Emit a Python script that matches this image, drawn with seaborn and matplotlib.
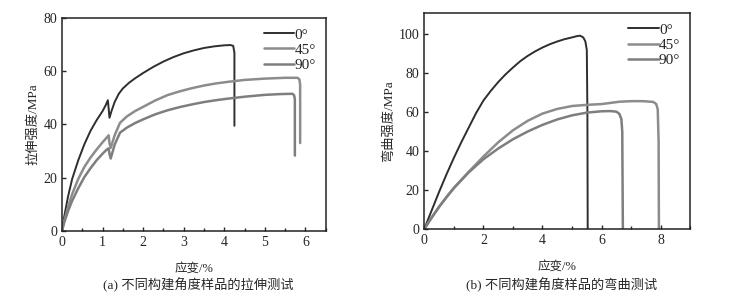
import numpy as np
import pandas as pd
import matplotlib
matplotlib.use("Agg")
import matplotlib.pyplot as plt
import seaborn as sns
from matplotlib.ticker import MultipleLocator

# tensile test (a)
t0_x = [0, 0.05, 0.15, 0.25, 0.4, 0.55, 0.7, 0.85, 1.0, 1.08, 1.13, 1.15, 1.17, 1.22, 1.3, 1.4, 1.5,
        1.65, 1.8, 2.0, 2.25, 2.5, 2.75, 3.0, 3.25, 3.5, 3.75, 4.0, 4.15, 4.22, 4.25, 4.25]
t0_y = [0, 5, 13, 19.5, 26.5, 32.5, 37.5, 41.5, 45, 47.3, 49.1, 46, 42.5, 45, 48.5, 51.5, 53.5,
        55.6, 57.3, 59.3, 61.6, 63.6, 65.3, 66.7, 67.8, 68.7, 69.3, 69.7, 69.8, 69.5, 67, 39.5]
t45_x = [0, 0.05, 0.15, 0.25, 0.4, 0.55, 0.7, 0.85, 1.0, 1.1, 1.15, 1.17, 1.2, 1.3, 1.43, 1.6, 1.8,
         2.0, 2.3, 2.6, 2.9, 3.2, 3.5, 3.8, 4.1, 4.5, 5.0, 5.5, 5.8, 5.85, 5.87, 5.87]
t45_y = [0, 3.5, 9, 13.8, 19.5, 24, 27.5, 30.5, 33.3, 35, 35.9, 33, 31.2, 36, 40.6, 43, 45,
         46.6, 49, 51, 52.4, 53.6, 54.6, 55.4, 56, 56.7, 57.2, 57.5, 57.5, 57, 55, 33]
t90_x = [0, 0.05, 0.15, 0.25, 0.4, 0.55, 0.7, 0.85, 1.0, 1.1, 1.15, 1.17, 1.2, 1.3, 1.43, 1.6, 1.8,
         2.0, 2.3, 2.6, 2.9, 3.2, 3.5, 3.8, 4.1, 4.5, 5.0, 5.4, 5.68, 5.72, 5.74, 5.74]
t90_y = [0, 3, 7.5, 11.3, 16, 20.2, 23.5, 26.5, 29, 30.5, 31, 29, 27.2, 32.5, 36.9, 38.8, 40.5,
         41.9, 43.8, 45.3, 46.5, 47.5, 48.4, 49.1, 49.7, 50.4, 51.1, 51.4, 51.5, 51, 49.5, 28.3]

# bending test (b)
b0_x = [0, 0.25, 0.5, 0.75, 1.0, 1.25, 1.5, 1.75, 2.0, 2.25, 2.5, 2.75, 3.0, 3.25, 3.5, 3.75,
        4.0, 4.25, 4.5, 4.75, 5.0, 5.15, 5.27, 5.38, 5.45, 5.5, 5.52, 5.53]
b0_y = [0, 9.5, 19, 28, 36.5, 44.5, 52, 59.5, 66, 71, 75.5, 79.5, 83, 86.3, 89, 91.3,
        93.3, 95, 96.4, 97.6, 98.5, 99.1, 99.4, 98.5, 96.5, 92, 60, 0]
b45_x = [0, 0.25, 0.5, 0.75, 1.0, 1.5, 2.0, 2.5, 3.0, 3.5, 4.0, 4.5, 5.0, 5.5, 6.0, 6.3, 6.6,
         7.0, 7.4, 7.75, 7.85, 7.9, 7.93, 7.94]
b45_y = [0, 5.8, 11.3, 16.3, 21, 29.3, 37.2, 44.5, 50.7, 55.6, 59.3, 61.7, 63.2, 63.8, 64.2, 64.8, 65.4,
         65.7, 65.7, 65.3, 64.2, 61.5, 45, 0]
b90_x = [0, 0.25, 0.5, 0.75, 1.0, 1.5, 2.0, 2.5, 3.0, 3.5, 4.0, 4.5, 5.0, 5.5, 6.0, 6.3, 6.5,
         6.6, 6.67, 6.7, 6.72]
b90_y = [0, 5.8, 11.3, 16.3, 21, 29, 35.8, 41.3, 46.1, 50.1, 53.5, 56.3, 58.4, 59.8, 60.5, 60.6, 60.3,
         59.2, 56.5, 50, 0]

labels = ["0°", "45°", "90°"]
colors = ["#2e2e2e", "#8c8c8c", "#7e7e7e"]
widths = [1.4, 1.8, 1.8]

def make_df(series):
    frames = []
    for lab, (xs, ys) in zip(labels, series):
        frames.append(pd.DataFrame({"x": xs, "y": ys, "angle": lab}))
    return pd.concat(frames, ignore_index=True)

tensile = make_df([(t0_x, t0_y), (t45_x, t45_y), (t90_x, t90_y)])
bending = make_df([(b0_x, b0_y), (b45_x, b45_y), (b90_x, b90_y)])

sns.set_style("ticks")
plt.rcParams["font.family"] = ["Liberation Serif", "Noto Sans CJK SC"]
plt.rcParams["axes.unicode_minus"] = False

fig = plt.figure(figsize=(7.47, 2.98), dpi=100)
ax1 = fig.add_axes([0.083, 0.225, 0.353, 0.715])
ax2 = fig.add_axes([0.568, 0.232, 0.356, 0.724])

for ax, df in [(ax1, tensile), (ax2, bending)]:
    sns.lineplot(data=df, x="x", y="y", hue="angle", palette=colors,
                 estimator=None, sort=False, ax=ax)
    for line, lw in zip(ax.get_lines(), widths):
        line.set_linewidth(lw)
        line.set_solid_joinstyle("round")
    leg = ax.legend(loc="upper right", frameon=False, handlelength=2.0,
                    handletextpad=0.0, labelspacing=0.1, fontsize=11,
                    borderaxespad=0.25)
    for h, lw in zip(leg.get_lines(), widths):
        h.set_linewidth(lw)
    ax.set_xlabel("应变/%", fontsize=9, labelpad=10)
    ax.tick_params(direction="in", labelsize=10, width=1, length=3)
    ax.tick_params(which="minor", direction="in", width=1, length=2)
    for s in ax.spines.values():
        s.set_linewidth(1.1)
        s.set_color("#222222")

ax1.set_xlim(0, 6.5)
ax1.set_ylim(0, 80)
ax1.xaxis.set_major_locator(MultipleLocator(1))
ax1.xaxis.set_minor_locator(MultipleLocator(0.5))
ax1.yaxis.set_major_locator(MultipleLocator(20))
ax1.set_ylabel("拉伸强度/MPa", fontsize=9.5, labelpad=3)

ax2.set_xlim(0, 9)
ax2.set_ylim(0, 111)
ax2.xaxis.set_major_locator(MultipleLocator(2))
ax2.xaxis.set_minor_locator(MultipleLocator(1))
ax2.yaxis.set_major_locator(MultipleLocator(20))
ax2.set_ylabel("弯曲强度/MPa", fontsize=9.5, labelpad=3)

fig.text(0.266, 0.045, "(a) 不同构建角度样品的拉伸测试", ha="center", va="center", fontsize=9.5)
fig.text(0.752, 0.045, "(b) 不同构建角度样品的弯曲测试", ha="center", va="center", fontsize=9.5)

fig.savefig("out.png", dpi=100)
